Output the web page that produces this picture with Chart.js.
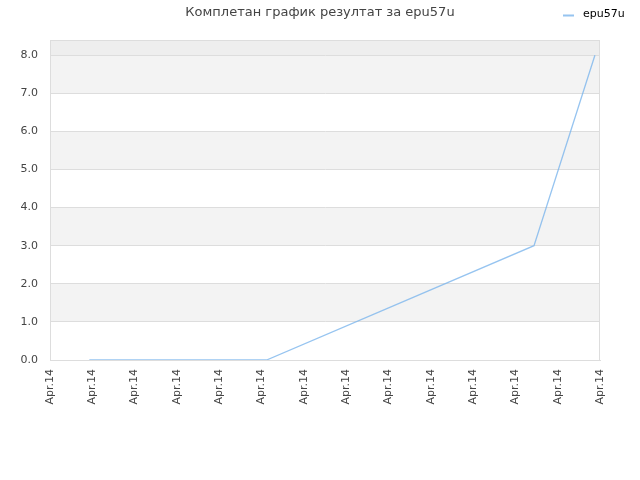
<!DOCTYPE html>
<html>
<head>
<meta charset="utf-8">
<script src="https://cdn.jsdelivr.net/npm/chart.js@4/dist/chart.umd.min.js"></script>
<style>
  html, body { margin: 0; padding: 0; background: #fff; }
  #wrap { width: 640px; height: 480px; }
</style>
</head>
<body>
<div id="wrap"><canvas id="chart" width="640" height="480"></canvas></div>
<script>
const seriesName = 'epu57u'
const titleText = 'Комплетан график резултат за epu57u'
const tickLabels = ['Apr.14', 'Apr.14', 'Apr.14', 'Apr.14', 'Apr.14', 'Apr.14', 'Apr.14',
                    'Apr.14', 'Apr.14', 'Apr.14', 'Apr.14', 'Apr.14', 'Apr.14', 'Apr.14']
const xValues = [0.93, 5.12, 11.44, 12.88]
const yValues = [0, 0, 3, 8]

const lineColor = 'rgba(124,181,236,0.8)'

// alternating grey bands + frame around the plot
const bands = {
    id: 'bands',
    beforeDraw(chart) {
        const { ctx, chartArea, scales } = chart
        const y = scales.y
        ctx.save()
        for (let v = 1; v < 8; v += 2) {
            const top = y.getPixelForValue(v + 1)
            const bot = y.getPixelForValue(v)
            ctx.fillStyle = '#f3f3f3'
            ctx.fillRect(chartArea.left, top, chartArea.right - chartArea.left, bot - top)
        }
        const t = y.getPixelForValue(y.max)
        const b = y.getPixelForValue(8)
        ctx.fillStyle = '#eeeeee'
        ctx.fillRect(chartArea.left, t, chartArea.right - chartArea.left, b - t)
        ctx.restore()
    },
    afterDraw(chart) {
        const { ctx, chartArea } = chart
        ctx.save()
        ctx.strokeStyle = '#dddddd'
        ctx.lineWidth = 1
        ctx.strokeRect(chartArea.left + 0.5, chartArea.top + 0.5,
            chartArea.right - chartArea.left - 1, chartArea.bottom - chartArea.top)
        // legend in top right corner
        ctx.strokeStyle = lineColor
        ctx.lineWidth = 2
        ctx.beginPath()
        ctx.moveTo(563, 15.5)
        ctx.lineTo(574, 15.5)
        ctx.stroke()
        ctx.fillStyle = '#000'
        ctx.font = '11px "DejaVu Sans"'
        ctx.textBaseline = 'middle'
        ctx.fillText(seriesName, 583, 14.5)
        ctx.restore()
    }
}

const ctx = document.getElementById('chart').getContext('2d')
new Chart(ctx, {
    type: 'line',
    data: {
        datasets: [{
            label: seriesName,
            data: xValues.map((x, i) => ({ x: x, y: yValues[i] })),
            borderColor: lineColor,
            borderWidth: 1.3,
            pointRadius: 0,
            tension: 0,
            fill: false
        }]
    },
    options: {
        responsive: false,
        animation: false,
        layout: { padding: 0 },
        plugins: {
            legend: { display: false },
            tooltip: { enabled: false },
            title: {
                display: true,
                text: titleText,
                color: '#444',
                font: { family: 'DejaVu Sans', size: 13, weight: 'normal' },
                padding: { top: 5, bottom: 19.4 }
            }
        },
        scales: {
            x: {
                type: 'linear',
                min: 0,
                max: tickLabels.length - 1,
                afterFit(scale) { scale.height = 120 },
                grid: { display: false, drawTicks: false },
                border: { display: true, color: '#dddddd' },
                ticks: {
                    stepSize: 1,
                    autoSkip: false,
                    minRotation: 90,
                    maxRotation: 90,
                    padding: 9,
                    color: '#444',
                    font: { family: 'DejaVu Sans', size: 11 },
                    callback: (v) => tickLabels[v]
                }
            },
            y: {
                min: 0,
                max: 8.4,
                afterFit(scale) { scale.width = 50 },
                afterBuildTicks(scale) {
                    scale.ticks = scale.ticks.filter(t => Number.isInteger(t.value))
                },
                grid: { color: '#dddddd', drawTicks: false },
                border: { display: true, color: '#dddddd' },
                ticks: {
                    stepSize: 1,
                    padding: 12,
                    color: '#444',
                    font: { family: 'DejaVu Sans', size: 11 },
                    callback: (v) => v.toFixed(1)
                }
            },
            // empty right axis, only reserves the right margin
            yRight: {
                position: 'right',
                min: 0,
                max: 8.4,
                afterFit(scale) { scale.width = 40 },
                grid: { display: false, drawTicks: false },
                border: { display: false },
                ticks: { display: false }
            }
        }
    },
    plugins: [bands]
})
</script>
</body>
</html>
